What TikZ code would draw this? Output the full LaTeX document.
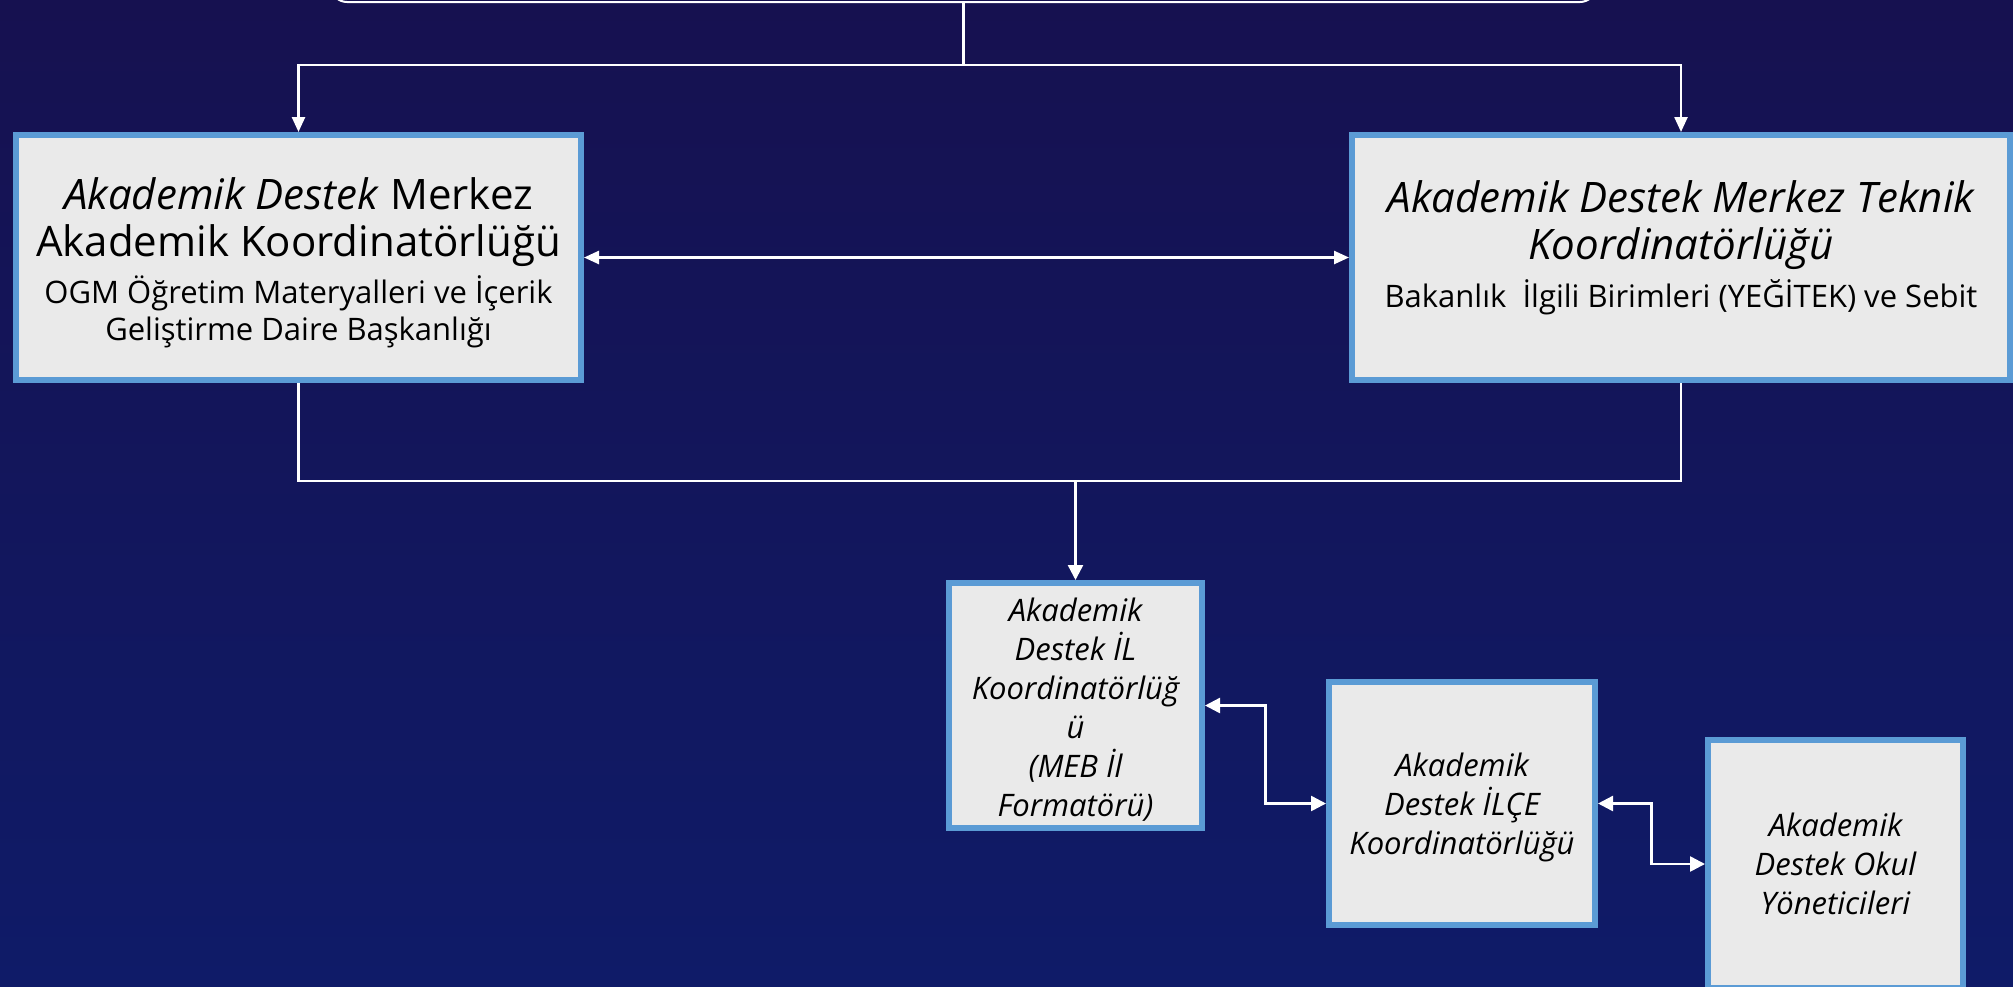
\documentclass[tikz,border=0pt]{standalone}
\usepackage{fontspec}
\setmainfont{Open Sans}
\usetikzlibrary{arrows.meta,calc}
\definecolor{bgtop}{RGB}{22,17,80}
\definecolor{bgmid}{RGB}{36,32,140}
\definecolor{bgbot}{RGB}{15,27,104}
\definecolor{boxblue}{RGB}{91,155,213}
\definecolor{boxfill}{RGB}{234,234,234}
\newcommand{\bigf}{\fontsize{42}{50}\selectfont}
\newcommand{\smallf}{\fontsize{31}{37}\selectfont}
\newcommand{\botf}{\fontsize{31}{39}\selectfont\itshape}
\begin{document}
\begin{tikzpicture}[x=1pt,y=-1pt,
  box/.style={draw=boxblue, line width=6pt, fill=boxfill, align=center, inner sep=0pt, text=black},
  conn/.style={draw=white, line width=2.5pt},
  tipA/.style={-{Triangle[width=13pt,length=15pt]}},
  tipAA/.style={{Triangle[width=13pt,length=15pt]}-{Triangle[width=13pt,length=15pt]}},
  tipB/.style={-{Triangle[width=15pt,length=15pt]}},
  tipBB/.style={{Triangle[width=15pt,length=15pt]}-{Triangle[width=15pt,length=15pt]}}]
\useasboundingbox (0,0) rectangle (2013,986);
\shade[top color=bgtop, middle color=bgmid, bottom color=bgbot] (0,0) rectangle (2013,986);

\node[draw=white, line width=2pt, rounded corners=16pt, minimum width=1265pt, minimum height=82pt, inner sep=0pt] (top) at (963.5,-39) {};

\node[box, font=\smallf, minimum width=565pt, minimum height=245pt] (left) at (298.5,257.5)
  {{\bigf\rule{0pt}{42pt}\textit{Akademik Destek} Merkez}\\[10pt]{\bigf Akademik Koordinatörlüğü}\\[8pt]OGM Öğretim Materyalleri ve İçerik\\Geliştirme Daire Başkanlığı};

\node[box, font=\smallf, minimum width=658pt, minimum height=245pt] (right) at (1681,257.5)
  {{\bigf\itshape\rule{0pt}{42pt}Akademik Destek Merkez Teknik}\\[10pt]{\bigf\itshape Koordinatörlüğü}\\[8pt]Bakanlık\ \ İlgili Birimleri (YEĞİTEK) ve Sebit\\\mbox{}};

\node[box, font=\botf, minimum width=253pt, minimum height=245pt] (il) at (1075.5,705.5)
  {\rule{0pt}{31pt}Akademik\\Destek İL\\Koordinatörlüğ\\ü\\(MEB İl\\Formatörü)};

\node[box, font=\botf, minimum width=266pt, minimum height=243pt] (ilce) at (1462,803.5)
  {\rule{0pt}{31pt}Akademik\\Destek İLÇE\\Koordinatörlüğü};

\node[box, font=\botf, minimum width=255pt, minimum height=248pt] (okul) at (1835.5,864)
  {Akademik\\Destek Okul\\Yöneticileri};

\coordinate (j1) at (963.5,65);
\coordinate (j2) at (1075.5,481);
\draw[conn] (top.south) -- (j1);
\draw[conn,tipA] (j1) -| (left.north);
\draw[conn,tipA] (j1) -| (right.north);
\draw[conn,tipAA] (left.east) -- (right.west);
\draw[conn] (left.south) |- (j2) -| (right.south);
\draw[conn,tipB] (j2) -- (il.north);
\draw[conn,tipBB] (il.east) -| ($(il.east)!0.5!(ilce.west)$) |- (ilce.west);
\draw[conn,tipBB] (ilce.east) -| ($(ilce.east)!0.5!(okul.west)$) |- (okul.west);
\end{tikzpicture}
\end{document}
